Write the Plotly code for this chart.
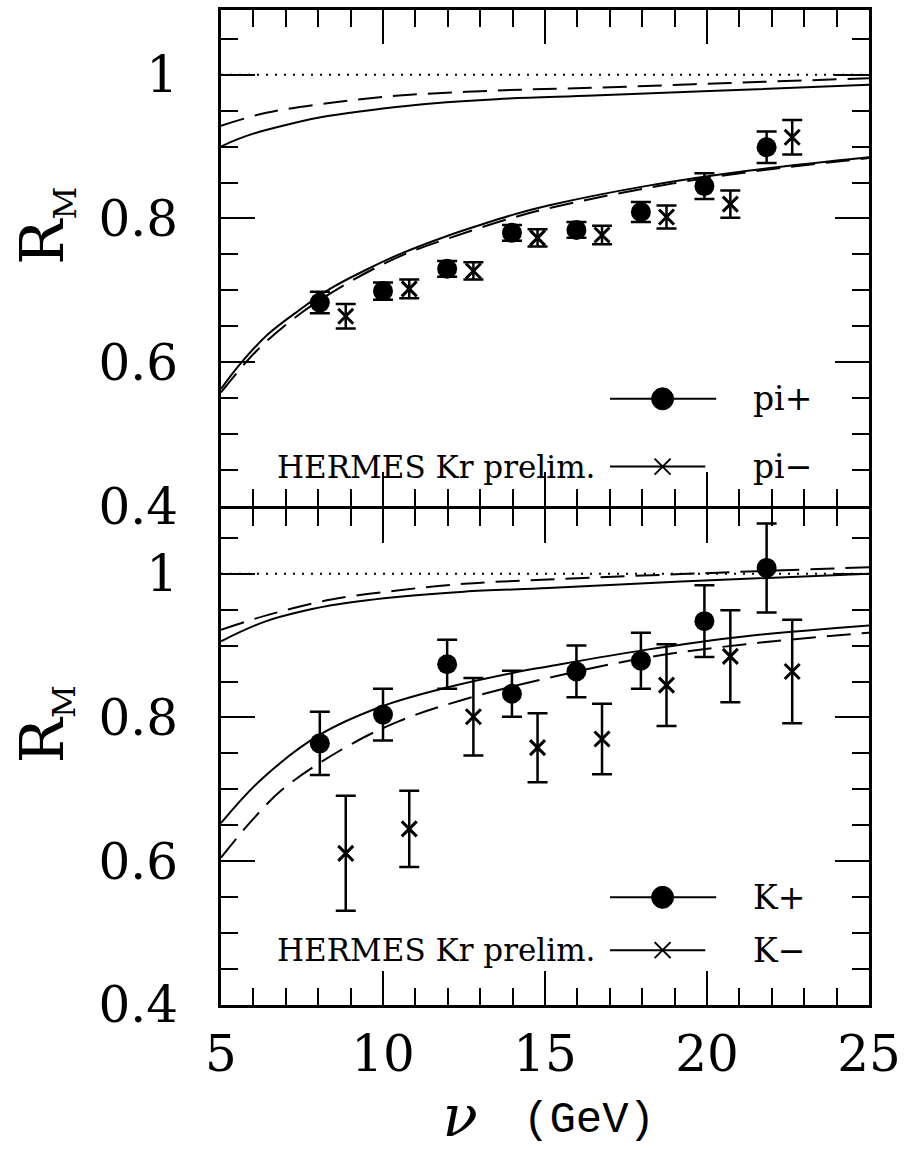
import plotly.graph_objects as go

# ---- measured points: nuclear attenuation ratio R_M vs nu (GeV) ----
nu_pos = [8.05, 10.0, 11.98, 13.98, 15.97, 17.96, 19.92, 21.84]
nu_neg = [8.85, 10.81, 12.79, 14.77, 16.76, 18.75, 20.72, 22.63]

pi_plus = [0.683, 0.699, 0.730, 0.780, 0.784, 0.809, 0.845, 0.899]
pi_plus_err = [0.015, 0.012, 0.011, 0.011, 0.011, 0.014, 0.018, 0.022]
pi_minus = [0.664, 0.702, 0.727, 0.773, 0.777, 0.802, 0.820, 0.913]
pi_minus_err = [0.017, 0.013, 0.012, 0.012, 0.013, 0.016, 0.019, 0.024]

k_plus = [0.764, 0.804, 0.874, 0.833, 0.864, 0.879, 0.934, 1.008]
k_plus_err = [0.044, 0.036, 0.034, 0.032, 0.036, 0.039, 0.050, 0.062]
k_minus = [0.611, 0.645, 0.801, 0.758, 0.770, 0.845, 0.885, 0.864]
k_minus_err = [0.080, 0.053, 0.054, 0.048, 0.049, 0.057, 0.064, 0.072]

# ---- model curves ----
pi_hi_solid_x = [5, 5.5, 6, 7, 8, 9, 10, 11.5, 13.5, 16.5, 20.5, 25]
pi_hi_solid_y = [0.900, 0.910, 0.918, 0.930, 0.940, 0.947, 0.953, 0.960, 0.966, 0.971, 0.978, 0.986]
pi_hi_dash_x = [5, 6.4, 8.4, 10.5, 13.5, 16.6, 20.7, 25]
pi_hi_dash_y = [0.929, 0.947, 0.961, 0.971, 0.978, 0.982, 0.9885, 0.995]
pi_lo_solid_x = [5, 5.6, 6.4, 7.4, 8.4, 9.5, 10.5, 12, 13, 14, 15.1, 18.1, 21.2, 25]
pi_lo_solid_y = [0.563, 0.598, 0.637, 0.672, 0.703, 0.729, 0.750, 0.776, 0.791, 0.805, 0.818, 0.845, 0.866, 0.885]
pi_lo_dash_x = [5, 6.1, 7.4, 8.75, 10.5, 12, 14, 15.1, 18.1, 21.2, 25]
pi_lo_dash_y = [0.558, 0.616, 0.666, 0.706, 0.747, 0.772, 0.801, 0.814, 0.842, 0.864, 0.884]

k_hi_solid_x = [5, 6.4, 8.4, 10.5, 12.5, 15.1, 19.2, 25]
k_hi_solid_y = [0.906, 0.934, 0.956, 0.968, 0.975, 0.980, 0.989, 1.000]
k_hi_dash_x = [5, 6.4, 8.4, 10.5, 12.5, 15.1, 19.2, 25]
k_hi_dash_y = [0.922, 0.942, 0.964, 0.977, 0.986, 0.992, 0.9995, 1.009]
k_lo_solid_x = [5, 6.2, 8.05, 10, 12, 14, 15.1, 18.1, 21.2, 25]
k_lo_solid_y = [0.653, 0.712, 0.776, 0.816, 0.842, 0.862, 0.871, 0.894, 0.913, 0.928]
k_lo_dash_x = [5, 5.9, 6.9, 8.75, 10.5, 12.5, 15.1, 18.1, 21.2, 25]
k_lo_dash_y = [0.605, 0.654, 0.700, 0.756, 0.795, 0.825, 0.855, 0.883, 0.902, 0.918]

X_RANGE = [5, 25]
Y_RANGE = [0.4, 1.09]
UNITY = 1.0

W, H = 908, 1150
ML, MR, MT, MB = 221, 34, 7, 145
PLOT_H = H - MT - MB
FRAME_W = 3
SERIF = "DejaVu Serif"


def px_x(px):
    return (px - ML) / (W - ML - MR)


def px_y(py):
    return (H - MB - py) / PLOT_H


# small gap so the two shared frame lines fall on the same pixels
HALF_GAP = (FRAME_W / 2) / PLOT_H

fig = go.Figure()

DASH = "24px,11px"
DOT = "2px,7px"


def add_panel(xa, ya, curves, pos, pos_err, neg, neg_err):
    # unity reference
    fig.add_trace(go.Scatter(x=X_RANGE, y=[UNITY, UNITY], mode="lines",
                             line=dict(color="black", width=2, dash=DOT),
                             xaxis=xa, yaxis=ya, showlegend=False, hoverinfo="skip"))
    for cx, cy, dash in curves:
        fig.add_trace(go.Scatter(x=cx, y=cy, mode="lines",
                                 line=dict(color="black", width=2, shape="spline",
                                           smoothing=1.0, dash=dash),
                                 xaxis=xa, yaxis=ya, showlegend=False))
    fig.add_trace(go.Scatter(x=nu_pos, y=pos, mode="markers",
                             marker=dict(symbol="circle", size=20, color="black"),
                             error_y=dict(type="data", array=pos_err, visible=True,
                                          color="black", thickness=2.5, width=10),
                             xaxis=xa, yaxis=ya, showlegend=False))
    fig.add_trace(go.Scatter(x=nu_neg, y=neg, mode="markers",
                             marker=dict(symbol="x-thin", size=15, color="black",
                                         line=dict(color="black", width=3)),
                             error_y=dict(type="data", array=neg_err, visible=True,
                                          color="black", thickness=2.5, width=10),
                             xaxis=xa, yaxis=ya, showlegend=False))


add_panel("x", "y",
          [(pi_hi_solid_x, pi_hi_solid_y, "solid"), (pi_hi_dash_x, pi_hi_dash_y, DASH),
           (pi_lo_solid_x, pi_lo_solid_y, "solid"), (pi_lo_dash_x, pi_lo_dash_y, DASH)],
          pi_plus, pi_plus_err, pi_minus, pi_minus_err)
add_panel("x2", "y2",
          [(k_hi_solid_x, k_hi_solid_y, "solid"), (k_hi_dash_x, k_hi_dash_y, DASH),
           (k_lo_solid_x, k_lo_solid_y, "solid"), (k_lo_dash_x, k_lo_dash_y, DASH)],
          k_plus, k_plus_err, k_minus, k_minus_err)

axis_style = dict(showline=True, linewidth=FRAME_W, linecolor="black", mirror="ticks",
                  ticks="inside", ticklen=34, tickwidth=2, tickcolor="black",
                  showgrid=False, zeroline=False,
                  tickfont=dict(family=SERIF, size=50, color="black"))

xstyle = dict(axis_style, range=X_RANGE, tick0=5, dtick=5,
              minor=dict(ticks="inside", ticklen=17, tickwidth=2, tickcolor="black",
                         dtick=1, tick0=5, showgrid=False))
ystyle = dict(axis_style, range=Y_RANGE, tick0=0.4, dtick=0.2,
              minor=dict(ticks="inside", ticklen=17, tickwidth=2, tickcolor="black",
                         dtick=0.05, tick0=0.4, showgrid=False))

shapes = []
annotations = []


def legend_block(y_pos_px, y_neg_px, lab_pos, lab_neg):
    # filled-circle key
    shapes.append(dict(type="line", xref="paper", yref="paper",
                       x0=px_x(613), x1=px_x(720), y0=px_y(y_pos_px), y1=px_y(y_pos_px),
                       line=dict(color="black", width=2)))
    shapes.append(dict(type="circle", xref="paper", yref="paper",
                       xsizemode="pixel", ysizemode="pixel",
                       xanchor=px_x(666), yanchor=px_y(y_pos_px),
                       x0=-11, x1=11, y0=-11, y1=11,
                       fillcolor="black", line=dict(color="black", width=1)))
    # cross key
    shapes.append(dict(type="line", xref="paper", yref="paper",
                       x0=px_x(613), x1=px_x(709), y0=px_y(y_neg_px), y1=px_y(y_neg_px),
                       line=dict(color="black", width=2)))
    for sgn in (1, -1):
        shapes.append(dict(type="line", xref="paper", yref="paper",
                           xsizemode="pixel", ysizemode="pixel",
                           xanchor=px_x(666), yanchor=px_y(y_neg_px),
                           x0=-8, x1=8, y0=-8 * sgn, y1=8 * sgn,
                           line=dict(color="black", width=2)))
    for lab, ypx in ((lab_pos, y_pos_px), (lab_neg, y_neg_px)):
        annotations.append(dict(text=lab, xref="paper", yref="paper",
                                x=px_x(755), y=px_y(ypx), xanchor="left", yanchor="middle",
                                showarrow=False,
                                font=dict(family=SERIF, size=33, color="black")))
    annotations.append(dict(text="HERMES Kr prelim.", xref="paper", yref="paper",
                            x=px_x(275), y=px_y(y_neg_px), xanchor="left", yanchor="middle",
                            showarrow=False,
                            font=dict(family=SERIF, size=31, color="black")))


legend_block(397, 465, "pi+", "pi\u2212")
legend_block(897, 950, "K+", "K\u2212")

for cy in (223, 723):
    annotations.append(dict(text="R<sub><span style='font-size:32px'>M</span></sub>",
                            xref="paper", yref="paper", x=px_x(44), y=px_y(cy),
                            xanchor="center", yanchor="middle", textangle=-90,
                            showarrow=False,
                            font=dict(family=SERIF, size=60, color="black")))

# axis title: italic nu followed by the unit
annotations.append(dict(text="\u00a0<i>\u03bd</i>\u00a0", xref="paper", yref="paper",
                        x=px_x(462), y=px_y(1116), xanchor="center", yanchor="middle",
                        showarrow=False,
                        font=dict(family=SERIF, size=58, color="black")))
annotations.append(dict(text="(GeV)", xref="paper", yref="paper",
                        x=px_x(592), y=px_y(1120), xanchor="center", yanchor="middle",
                        showarrow=False,
                        font=dict(family="Liberation Mono", size=44, color="black")))

fig.update_layout(
    width=W, height=H,
    margin=dict(l=ML, r=MR, t=MT, b=MB),
    paper_bgcolor="white", plot_bgcolor="white",
    showlegend=False,
    xaxis=dict(xstyle, anchor="y", showticklabels=False),
    yaxis=dict(ystyle, anchor="x", domain=[0.5 + HALF_GAP, 1.0], ticklabelstandoff=30),
    xaxis2=dict(xstyle, anchor="y2", matches="x", ticklabelstandoff=3),
    yaxis2=dict(ystyle, anchor="x2", domain=[0.0, 0.5 - HALF_GAP], ticklabelstandoff=30),
    shapes=shapes,
    annotations=annotations,
)

fig.write_html("out.html")
